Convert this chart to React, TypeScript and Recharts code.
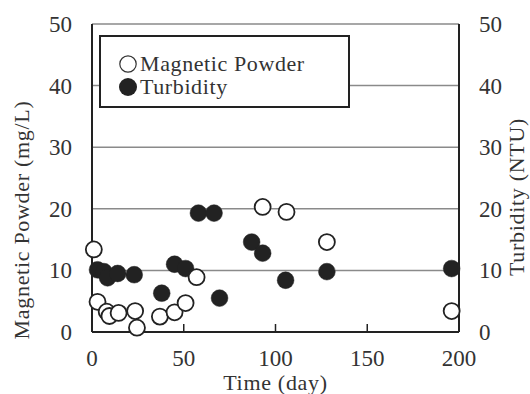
import React from "react";
import {
  ScatterChart,
  Scatter,
  XAxis,
  YAxis,
  CartesianGrid,
} from "recharts";

const W = 530;
const H = 394;
const FONT = "'Liberation Serif', 'DejaVu Serif', serif";

// Magnetic powder (mg/L), open circles
const magDays = [1, 3, 8, 9.5, 14.5, 23.5, 24.5, 37, 45, 51, 57, 93, 106, 128, 196];
const magValues = [13.4, 4.9, 3.3, 2.6, 3.1, 3.4, 0.7, 2.5, 3.2, 4.7, 8.9, 20.3, 19.5, 14.6, 3.4];

// Turbidity (NTU), filled circles
const turbDays = [3, 6.5, 8.5, 14, 23, 38, 45, 51, 58, 66.5, 69.5, 87, 93, 105.5, 128, 196];
const turbValues = [10.1, 9.8, 8.8, 9.5, 9.3, 6.3, 11.0, 10.3, 19.3, 19.3, 5.5, 14.6, 12.8, 8.4, 9.8, 10.3];

const xTicks = [0, 50, 100, 150, 200];
const yTicks = [0, 10, 20, 30, 40, 50];

const magData = magDays.map((day, i) => ({ day, v: magValues[i] }));
const turbData = turbDays.map((day, i) => ({ day, v: turbValues[i] }));

const series = [
  { name: "Magnetic Powder", filled: false },
  { name: "Turbidity", filled: true },
];

const INK = "#222";
const TEXT = "#333";

const OpenDot = (p: any) => (
  <circle cx={p.cx} cy={p.cy} r={8} fill="#fff" stroke={INK} strokeWidth={1.8} />
);
const FilledDot = (p: any) => (
  <circle cx={p.cx} cy={p.cy} r={8.4} fill={INK} stroke={INK} strokeWidth={0.5} />
);

const XTick = (p: any) => {
  const v = p.payload.value;
  const axisY = p.y - 18;
  return (
    <g>
      {v > 0 && v < 200 && (
        <line x1={p.x} x2={p.x} y1={axisY} y2={axisY - 8} stroke={INK} strokeWidth={1.5} />
      )}
      <text x={p.x} y={axisY + 34} textAnchor="middle" fontFamily={FONT} fontSize={23} fill={TEXT}>
        {v}
      </text>
    </g>
  );
};

const LeftTick = (p: any) => (
  <text x={72} y={p.y + 8} textAnchor="end" fontFamily={FONT} fontSize={23} fill={TEXT}>
    {p.payload.value}
  </text>
);

const RightTick = (p: any) => (
  <text x={479} y={p.y + 8} textAnchor="start" fontFamily={FONT} fontSize={23} fill={TEXT}>
    {p.payload.value}
  </text>
);

const vTitle = (text: string, x: number, y: number) => () => (
  <text
    x={x}
    y={y}
    transform={`rotate(-90, ${x}, ${y})`}
    textAnchor="middle"
    dominantBaseline="central"
    fontFamily={FONT}
    fontSize={22}
    letterSpacing={0.7}
    fill={TEXT}
  >
    {text}
  </text>
);

function LegendBox() {
  return (
    <div
      style={{
        position: "absolute",
        left: 99,
        top: 35,
        width: 251,
        height: 73,
        boxSizing: "border-box",
        border: `2px solid ${INK}`,
        background: "#fff",
        fontFamily: FONT,
        fontSize: 22,
        letterSpacing: 0.6,
        color: TEXT,
        paddingTop: 15,
        paddingLeft: 17,
      }}
    >
      {series.map((s) => (
        <div key={s.name} style={{ display: "flex", alignItems: "center", height: 23, lineHeight: "23px" }}>
          <svg width={20} height={20} style={{ marginRight: 2 }}>
            <circle
              cx={10}
              cy={10}
              r={s.filled ? 9 : 8.2}
              fill={s.filled ? INK : "#fff"}
              stroke={s.filled ? "none" : TEXT}
              strokeWidth={1.2}
            />
          </svg>
          <span>{s.name}</span>
        </div>
      ))}
    </div>
  );
}

export default function App() {
  return (
    <div style={{ position: "absolute", left: 0, top: 0, width: W, height: H, background: "#fff" }}>
      <ScatterChart width={W} height={H} margin={{ top: 24, right: 0, bottom: 0, left: 0 }}>
        <CartesianGrid
          yAxisId="left"
          horizontal
          vertical={false}
          stroke="#8a8a8a"
          strokeWidth={1.5}
        />
        <XAxis
          xAxisId="bottom"
          dataKey="day"
          type="number"
          domain={[0, 200]}
          ticks={xTicks}
          height={62}
          axisLine={{ stroke: INK, strokeWidth: 2 }}
          tickLine={false}
          tickSize={0}
          tickMargin={18}
          tick={<XTick />}
          interval={0}
          label={{
            value: "Time (day)",
            position: "insideBottom",
            offset: 4,
            fontFamily: FONT,
            fontSize: 22,
            letterSpacing: 0.7,
            fill: TEXT,
          }}
        />
        <XAxis
          xAxisId="top"
          orientation="top"
          type="number"
          domain={[0, 200]}
          height={0}
          tick={false}
          tickLine={false}
          axisLine={{ stroke: INK, strokeWidth: 2 }}
        />
        <YAxis
          yAxisId="left"
          dataKey="v"
          type="number"
          domain={[0, 50]}
          ticks={yTicks}
          width={92}
          axisLine={{ stroke: INK, strokeWidth: 2 }}
          tickLine={false}
          tick={<LeftTick />}
          interval={0}
          label={{ content: vTitle("Magnetic Powder (mg/L)", 21, 220) }}
        />
        <YAxis
          yAxisId="right"
          orientation="right"
          dataKey="v"
          type="number"
          domain={[0, 50]}
          ticks={yTicks}
          width={71}
          axisLine={{ stroke: INK, strokeWidth: 2 }}
          tickLine={false}
          tick={<RightTick />}
          interval={0}
          label={{ content: vTitle("Turbidity (NTU)", 516, 197) }}
        />
        <Scatter
          name="Turbidity"
          data={turbData}
          xAxisId="bottom"
          yAxisId="right"
          shape={FilledDot}
          isAnimationActive={false}
        />
        <Scatter
          name="Magnetic Powder"
          data={magData}
          xAxisId="bottom"
          yAxisId="left"
          shape={OpenDot}
          isAnimationActive={false}
        />
      </ScatterChart>
      <LegendBox />
    </div>
  );
}
